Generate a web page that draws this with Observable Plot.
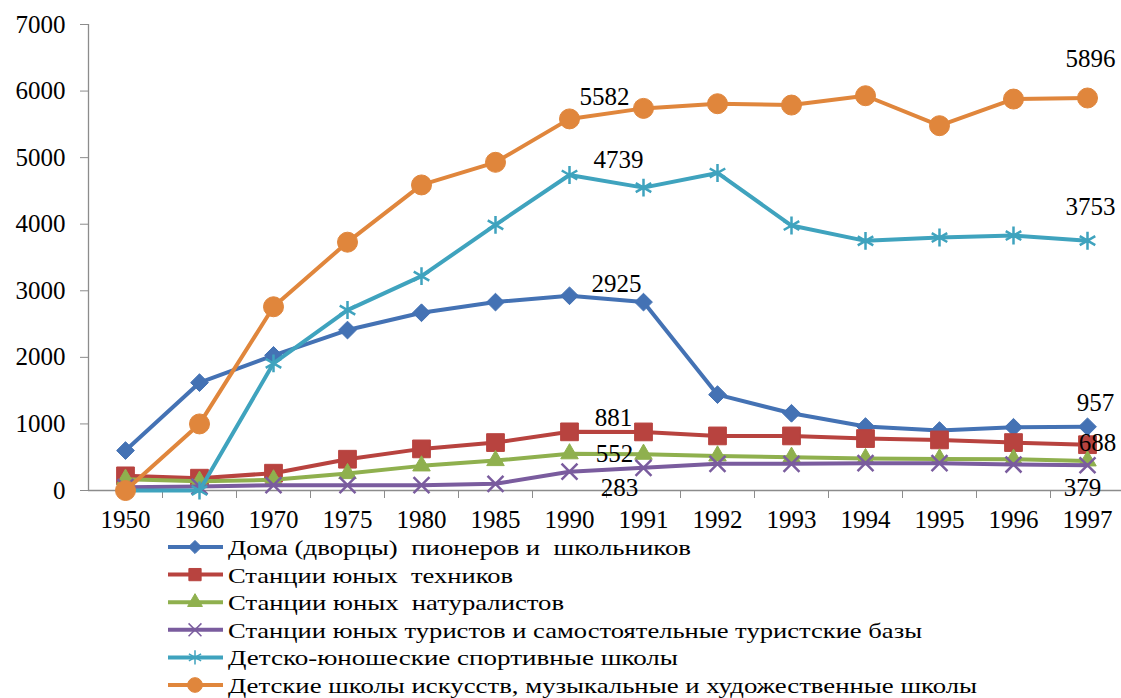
<!DOCTYPE html>
<html><head><meta charset="utf-8">
<script src="https://cdn.jsdelivr.net/npm/d3@7"></script>
<script src="https://cdn.jsdelivr.net/npm/@observablehq/plot@0.6"></script>
<style>
body{margin:0;background:#fff;}
#chart svg{display:block;}
</style></head><body><div id="chart"></div>
<script>
const years = ["1950","1960","1970","1975","1980","1985","1990","1991","1992","1993","1994","1995","1996","1997"];
const seriesNames = [
  "Дома (дворцы)  пионеров и  школьников",
  "Станции юных  техников",
  "Станции юных  натуралистов",
  "Станции юных туристов и самостоятельные туристские базы",
  "Детско-юношеские спортивные школы",
  "Детские школы искусств, музыкальные и художественные школы"
];
const domaPionerov   = [600, 1620, 2030, 2410, 2670, 2830, 2925, 2830, 1440, 1160, 960, 900, 950, 957];
const yunTekhnikov   = [220, 185, 260, 470, 625, 720, 881, 880, 820, 820, 780, 760, 720, 688];
const yunNaturalist  = [170, 140, 160, 255, 370, 450, 552, 545, 520, 500, 480, 475, 470, 445];
const yunTuristov    = [50, 60, 80, 80, 80, 100, 283, 340, 400, 400, 410, 410, 390, 379];
const sportShkoly    = [0, 0, 1910, 2710, 3220, 3990, 4739, 4550, 4770, 3980, 3750, 3800, 3830, 3753];
const shkolyIskusstv = [0, 1000, 2760, 3730, 4590, 4930, 5582, 5740, 5810, 5790, 5930, 5480, 5880, 5896];
const yTicks = [0, 1000, 2000, 3000, 4000, 5000, 6000, 7000];
// data labels: [series index, year, text]
const dataLabels = [
  [5, "1990", "5582"], [4, "1990", "4739"], [0, "1990", "2925"],
  [1, "1990", "881"], [2, "1990", "552"], [3, "1990", "283"],
  [5, "1997", "5896"], [4, "1997", "3753"], [0, "1997", "957"],
  [1, "1997", "688"], [3, "1997", "379"]
];

// ---- styling / placement (not data) ----
const labelOffsets = [
  [35, -22], [49, -15], [47, -12], [44, -14], [45, 0], [50, 16],
  [3, -39], [3, -34], [8, -24], [10, -2], [-5, 23]
];
const colors = ["#4472B4", "#B8433F", "#8FB04E", "#7A5C9E", "#3FA3BE", "#E0863C"];
const symbols = [d3.symbolDiamond2, "square", "triangle", "times", "asterisk", "circle"];
const radii = [8, 10, 6.5, 7.3, 8.5, 10];
const filled = [true, true, true, false, false, true];
const gray = "#8c8c8c";
const FONT = "Liberation Serif";

const seriesVals = [domaPionerov, yunTekhnikov, yunNaturalist, yunTuristov, sportShkoly, shkolyIskusstv];
const rows = seriesVals.map((vals, s) => vals.map((v, i) => ({s, i, year: years[i], v})));

const marks = [
  Plot.ruleY([0], {stroke: gray, strokeWidth: 1.3}),
  Plot.ruleX([-0.5], {stroke: gray, strokeWidth: 1.3}),
  Plot.axisY({ticks: yTicks, tickSize: 8, tickPadding: 15, stroke: gray, fill: "black", fontSize: 25, fontFamily: FONT, label: null, tickFormat: d => String(d)}),
  Plot.axisX({ticks: d3.range(0.5, 13.6, 1), tickSize: 8, stroke: gray, label: null, tickFormat: () => ""}),
  Plot.axisX({ticks: d3.range(0, 14), tickSize: 0, tickPadding: 20, fill: "black", fontSize: 25, fontFamily: FONT, label: null, tickFormat: i => years[i]})
];
rows.forEach((r, s) => {
  marks.push(Plot.line(r, {x: "i", y: "v", stroke: colors[s], strokeWidth: 4}));
  marks.push(Plot.dot(r, {
    x: "i", y: "v", symbol: symbols[s], r: radii[s],
    fill: filled[s] ? colors[s] : "none", stroke: colors[s], strokeWidth: filled[s] ? 1 : 2.5
  }));
});
dataLabels.forEach(([s, yr, t], k) => {
  const i = years.indexOf(yr);
  marks.push(Plot.text([{i, v: seriesVals[s][i], t}], {
    x: "i", y: "v", text: "t", dx: labelOffsets[k][0], dy: labelOffsets[k][1],
    fontSize: 25, fontFamily: FONT, fill: "black"
  }));
});

const chart = Plot.plot({
  width: 1121,
  height: 532,
  marginLeft: 88,
  marginRight: 0,
  marginTop: 24,
  marginBottom: 42,
  x: {type: "linear", domain: [-0.5, 13.5], range: [88, 1124], label: null},
  y: {domain: [0, 7000], range: [490, 24], label: null},
  style: {fontSize: "25px", color: "black", background: "white", overflow: "visible"},
  marks
});
chart.style.setProperty("font-family", FONT, "important");
chart.querySelectorAll("text, g").forEach(el => el.style.setProperty("font-family", FONT, "important"));
document.getElementById("chart").appendChild(chart);

// ---- legend below the chart ----
const legendTextEnds = [691, 513, 564, 922, 678, 977];
const legendMarkerSize = [110, 150, 95, 110, 140, 170];
const lg = d3.create("svg").attr("width", 1121).attr("height", 166)
  .style("display", "block");
seriesNames.forEach((name, s) => {
  const base = 23 + s * 27.6;
  const cy = base - 8;
  const g = lg.append("g");
  g.append("line").attr("x1", 168).attr("x2", 223).attr("y1", cy).attr("y2", cy)
    .attr("stroke", colors[s]).attr("stroke-width", 4);
  const sym = typeof symbols[s] === "string"
    ? {square: d3.symbolSquare, triangle: d3.symbolTriangle, times: d3.symbolTimes, asterisk: d3.symbolAsterisk, circle: d3.symbolCircle}[symbols[s]]
    : symbols[s];
  g.append("path").attr("d", d3.symbol(sym, legendMarkerSize[s])())
    .attr("transform", `translate(195,${cy})`)
    .attr("fill", filled[s] ? colors[s] : "none")
    .attr("stroke", colors[s]).attr("stroke-width", filled[s] ? 1 : 1.5);
  g.append("text").attr("x", 228).attr("y", base)
    .attr("font-family", FONT)
    .attr("font-size", 22).attr("fill", "black")
    .style("white-space", "pre")
    .attr("textLength", legendTextEnds[s] - 228).attr("lengthAdjust", "spacingAndGlyphs")
    .text(name);
});
lg.selectAll("text").each(function() { this.style.setProperty("font-family", FONT, "important"); });
document.getElementById("chart").appendChild(lg.node());
</script>
</body></html>
